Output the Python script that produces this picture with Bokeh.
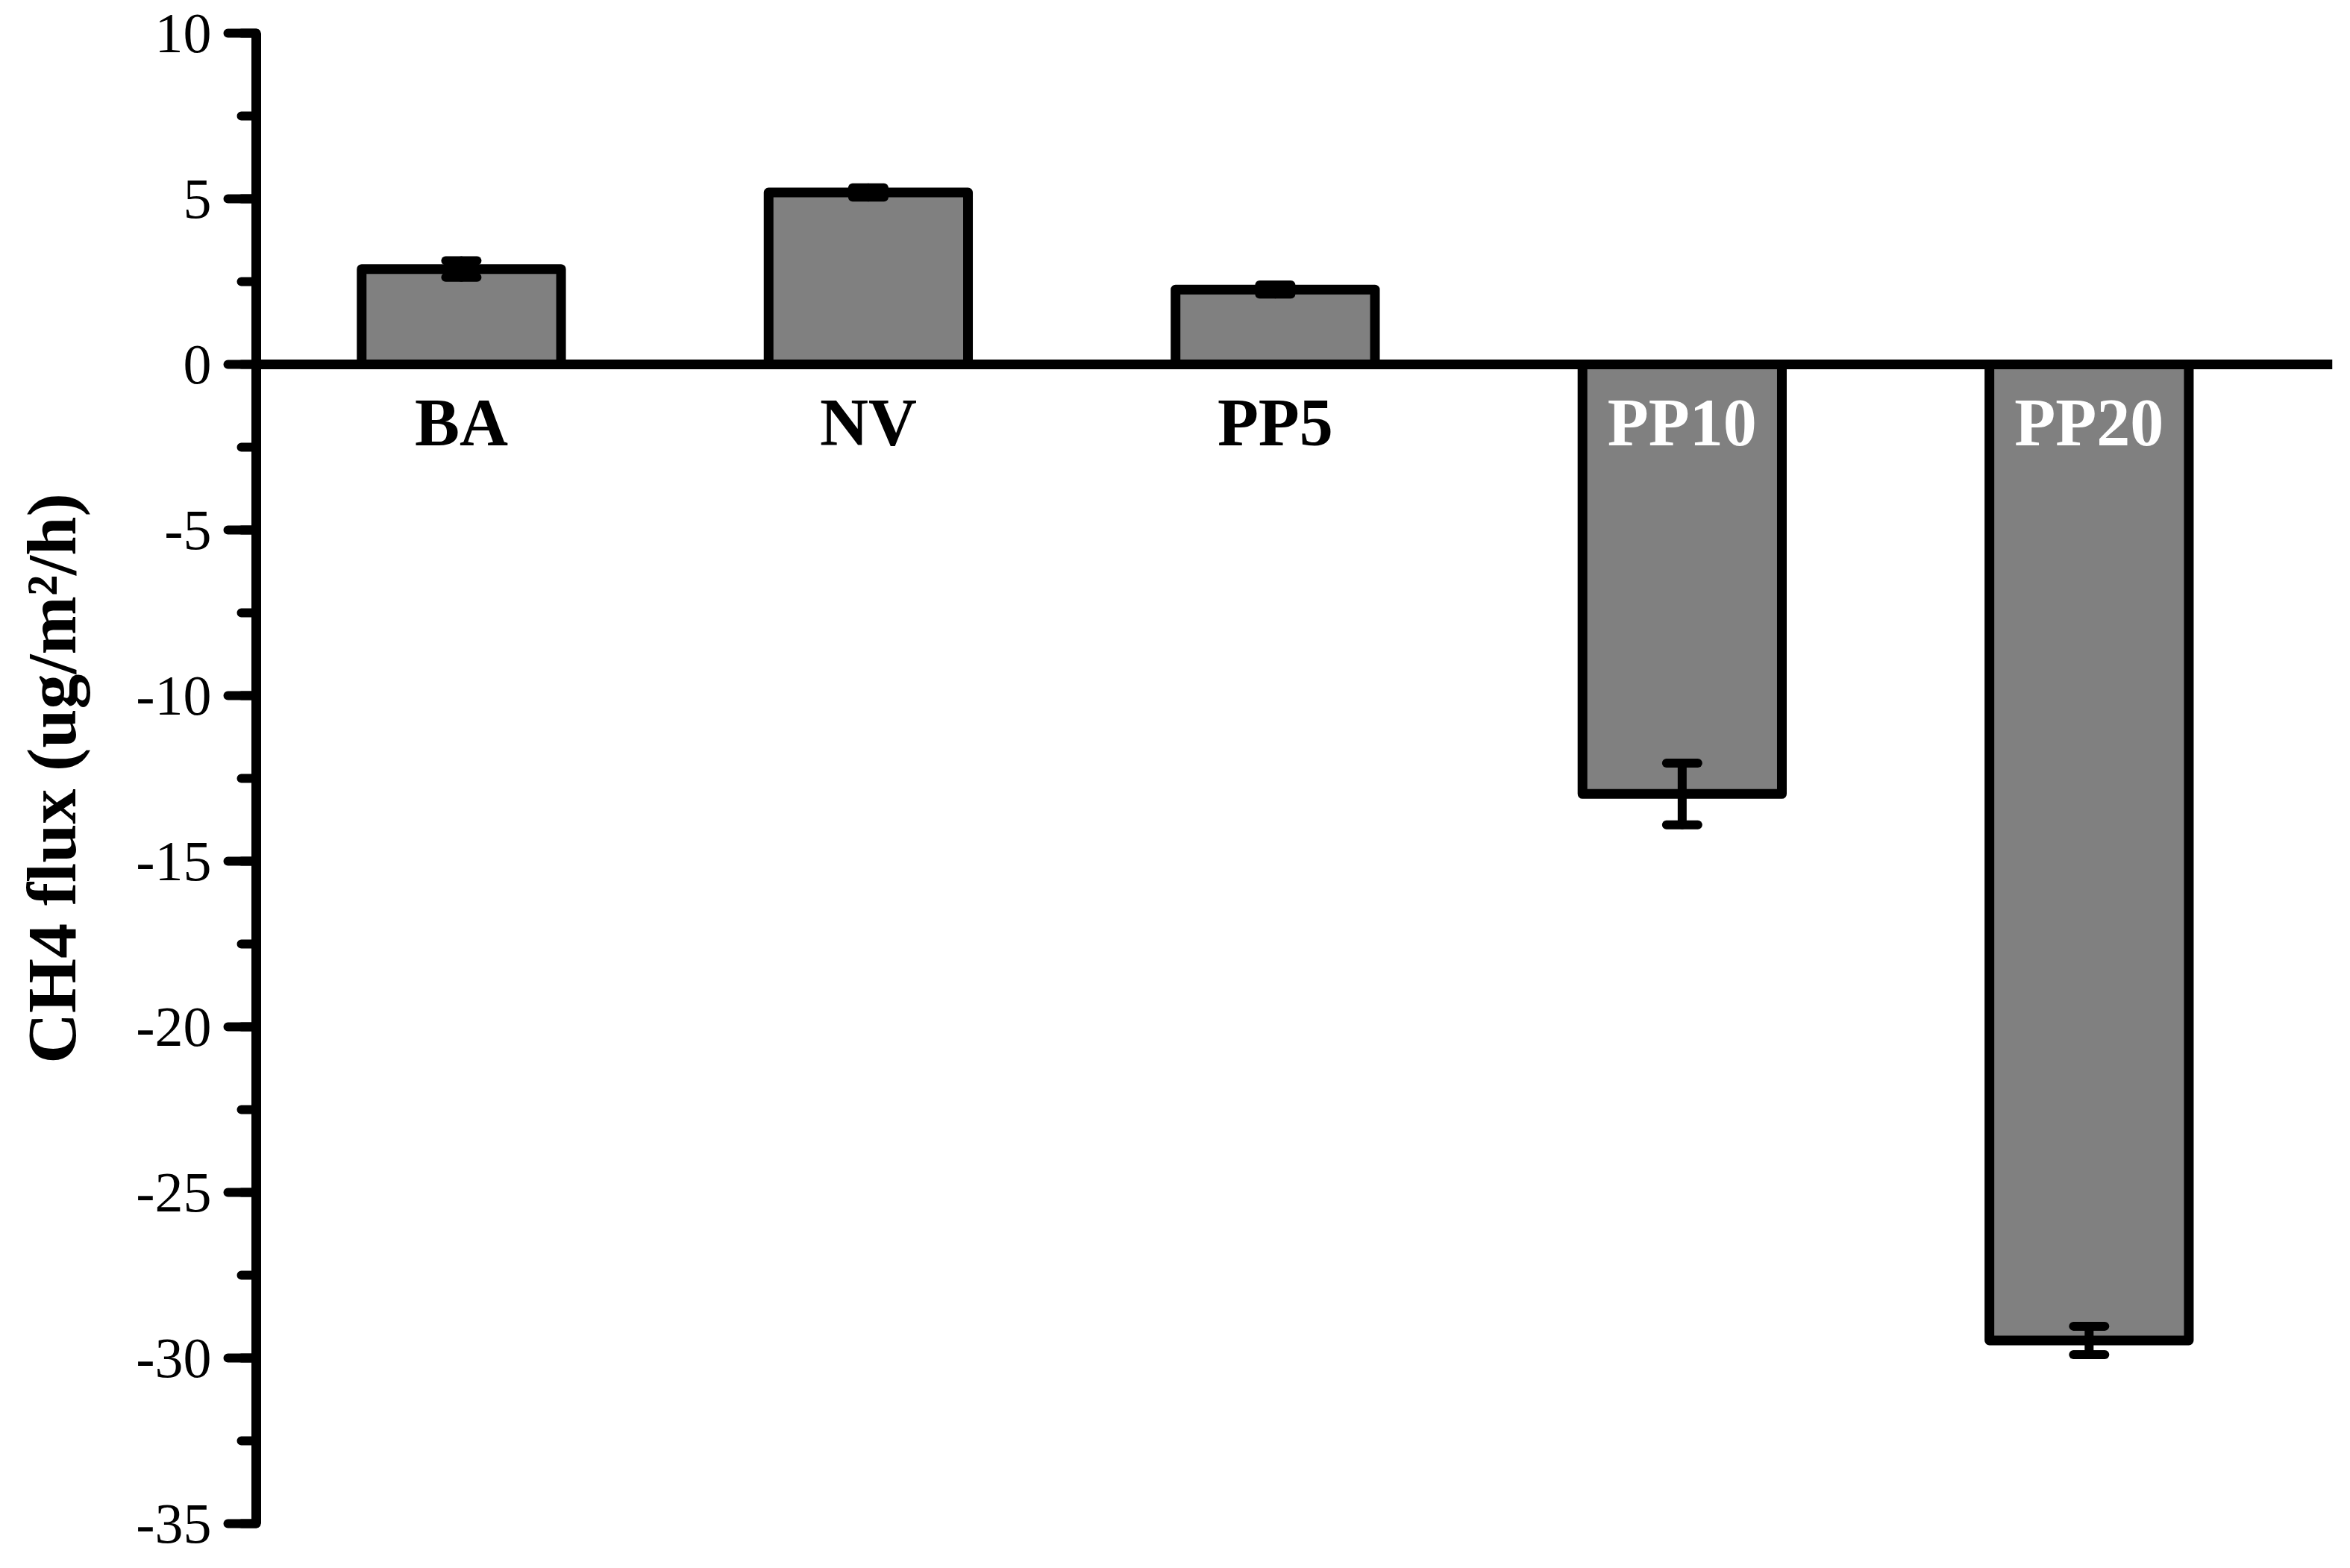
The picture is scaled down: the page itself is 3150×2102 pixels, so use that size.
from bokeh.plotting import figure
from bokeh.models import Range1d, Span, Whisker, ColumnDataSource, SingleIntervalTicker, TeeHead, PrintfTickFormatter
from bokeh.core.properties import value
from bokeh.embed import file_html
from bokeh.resources import INLINE

categories = ["BA", "NV", "PP5", "PP10", "PP20"]
flux = [2.88, 5.19, 2.26, -12.97, -29.47]
err = [0.25, 0.14, 0.14, 0.93, 0.43]
label_colors = ["black", "black", "black", "white", "white"]

xs = [i + 1 for i in range(len(categories))]
src = ColumnDataSource(dict(
    x=xs, top=flux, cat=categories, col=label_colors,
    upper=[f + e for f, e in zip(flux, err)],
    lower=[f - e for f, e in zip(flux, err)],
    ly=[-1.75] * len(categories),
))

p = figure(width=3130, height=2086, output_backend="svg", toolbar_location=None,
           x_range=Range1d(0.496, 5.598), y_range=Range1d(-35, 10),
           min_border_left=343, min_border_right=4, min_border_top=44, min_border_bottom=44)
p.outline_line_color = None
p.xgrid.visible = False
p.ygrid.visible = False
p.xaxis.visible = False
p.background_fill_color = "white"

p.vbar(x="x", top="top", bottom=0, width=0.49, source=src, fill_color="#808080",
       line_color="black", line_width=13, line_join="round")

p.add_layout(Span(location=0, dimension="width", line_color="black", line_width=13, level="overlay"))

wh = Whisker(base="x", upper="upper", lower="lower", source=src, level="overlay",
             line_color="black", line_width=12, line_cap="round",
             upper_head=TeeHead(size=42, line_width=12, line_color="black", line_cap="round"),
             lower_head=TeeHead(size=42, line_width=12, line_color="black", line_cap="round"))
p.add_layout(wh)

p.text(x="x", y="ly", text="cat", source=src, text_color="col",
       text_font=value("Liberation Serif"), text_font_style="bold",
       text_font_size="90px", text_align="center", text_baseline="middle")

ax = p.yaxis[0]
ax.ticker = SingleIntervalTicker(interval=5, num_minor_ticks=2)
ax.formatter = PrintfTickFormatter(format="%d")
ax.axis_line_width = 13
ax.axis_line_color = "black"
ax.major_tick_line_width = 12
ax.major_tick_line_cap = "round"
ax.minor_tick_line_width = 12
ax.minor_tick_line_cap = "round"
ax.major_tick_out = 38
ax.major_tick_in = 0
ax.minor_tick_out = 20
ax.minor_tick_in = 0
ax.major_label_standoff = 22
ax.major_label_text_font = "Liberation Serif"
ax.major_label_text_font_size = "76px"
ax.major_label_text_color = "black"
ax.axis_label = "CH4 flux (ug/m\u00b2/h)"
ax.axis_label_text_font = "Liberation Serif"
ax.axis_label_text_font_style = "bold"
ax.axis_label_text_font_size = "94px"
ax.axis_label_text_color = "black"
ax.axis_label_standoff = 58

open("out.html", "w").write(file_html(p, INLINE))
